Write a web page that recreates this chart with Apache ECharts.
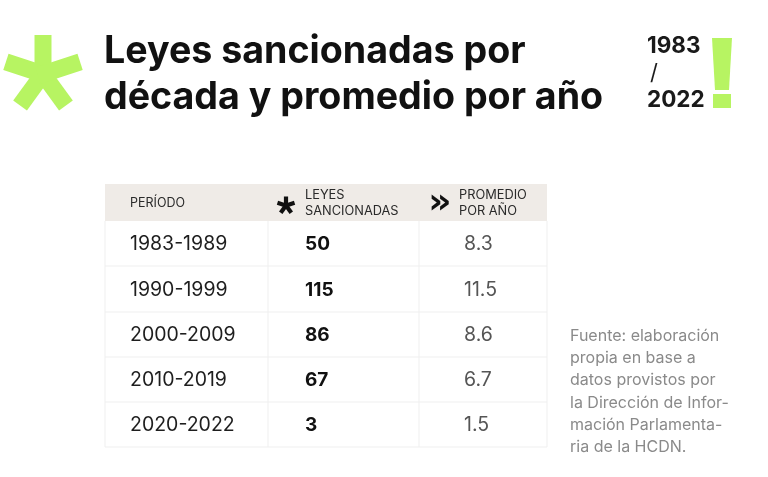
<!DOCTYPE html>
<html><head><meta charset="utf-8">
<script src="https://cdn.jsdelivr.net/npm/echarts@6/dist/echarts.min.js"></script>
<style>html,body{margin:0;padding:0;background:#fff}#c{width:768px;height:477px}</style>
</head><body><div id="c"></div>
<script>
// ---- data ----
var periods = ['1983-1989', '1990-1999', '2000-2009', '2010-2019', '2020-2022'];
var leyes = [50, 115, 86, 67, 3];
var promedio = ['8.3', '11.5', '8.6', '6.7', '1.5'];
var headers = ['PERÍODO', 'LEYES\nSANCIONADAS', 'PROMEDIO\nPOR AÑO'];
var titleLines = ['Leyes sancionadas por', 'década y promedio por año'];
var yearsLabel = ['1983', '/', '2022'];
var sourceText = 'Fuente: elaboración\npropia en base a\ndatos provistos por\nla Dirección de Infor-\nmación Parlamenta-\nria de la HCDN.';

// ---- layout (table units) ----
var colEdges = [0, 163, 314, 442];
var rowEdges = [0, 37, 82, 128, 173, 218, 263];
var GREEN = '#b7f462';
var FONT = 'Inter, Roboto, sans-serif';

function asterisk(cx, cy, L, w, color) {
  var arms = [];
  for (var k = 0; k < 5; k++) {
    arms.push({ type: 'rect', rotation: k * 2 * Math.PI / 5, shape: { x: -w / 2, y: -L, width: w, height: L + w * 0.3 }, style: { fill: color } });
  }
  return { type: 'group', x: cx, y: cy, children: arms };
}

var rows = [0, 1, 2, 3, 4, 5];
var seriesData = rows.map(function (r) { return [r]; });

function renderItem(params, api) {
  var r = api.value(0);
  var p0 = api.coord([colEdges[0], rowEdges[r]]);
  var p1 = api.coord([colEdges[3], rowEdges[r + 1]]);
  var xs = colEdges.map(function (c) { return api.coord([c, 0])[0]; });
  var x0 = p0[0], y0 = p0[1], x1 = p1[0], y1 = p1[1];
  var cy = (y0 + y1) / 2;
  var ch = [];
  if (r === 0) {
    ch.push({ type: 'rect', shape: { x: x0, y: y0, width: x1 - x0, height: y1 - y0 }, style: { fill: '#efebe7' } });
    ch.push({ type: 'text', x: xs[0] + 25, y: cy + 1, style: { text: headers[0], fill: '#2a2a2a', font: '400 12.5px ' + FONT, verticalAlign: 'middle' } });
    ch.push(asterisk(xs[1] + 18, cy + 3, 9, 4.2, '#111'));
    ch.push({ type: 'text', x: xs[1] + 37, y: cy + 1, style: { text: headers[1], fill: '#2a2a2a', font: '400 12.8px ' + FONT, lineHeight: 16, verticalAlign: 'middle' } });
    ch.push({ type: 'text', x: xs[2] + 21, y: cy + 1, style: { text: '»', fill: '#111', font: '700 36px "DejaVu Sans", sans-serif', align: 'center', verticalAlign: 'middle' } });
    ch.push({ type: 'text', x: xs[2] + 40, y: cy + 1, style: { text: headers[2], fill: '#2a2a2a', font: '400 12.8px ' + FONT, lineHeight: 16, verticalAlign: 'middle' } });
  } else {
    var i = r - 1;
    var lc = '#efefef';
    ch.push({ type: 'line', shape: { x1: x0, y1: y1, x2: x1, y2: y1 }, style: { stroke: lc, lineWidth: 1 } });
    [0, 1, 2, 3].forEach(function (k) {
      ch.push({ type: 'line', shape: { x1: xs[k], y1: y0, x2: xs[k], y2: y1 }, style: { stroke: lc, lineWidth: 1 } });
    });
    ch.push({ type: 'text', x: xs[0] + 25, y: cy + 1, style: { text: periods[i], fill: '#1e1e1e', font: '400 19.5px ' + FONT, verticalAlign: 'middle' } });
    ch.push({ type: 'text', x: xs[1] + 37, y: cy + 1, style: { text: String(leyes[i]), fill: '#111', font: '700 19px ' + FONT, verticalAlign: 'middle' } });
    ch.push({ type: 'text', x: xs[2] + 45, y: cy + 1, style: { text: promedio[i], fill: '#555', font: '400 19.5px ' + FONT, verticalAlign: 'middle' } });
  }
  return { type: 'group', children: ch };
}

var chart = echarts.init(document.getElementById('c'), null, { renderer: 'canvas' });
chart.setOption({
  backgroundColor: '#fff',
  animation: false,
  grid: { left: 105, right: 221, top: 184, bottom: 30 },
  xAxis: { type: 'value', min: colEdges[0], max: colEdges[3], show: false },
  yAxis: { type: 'value', min: rowEdges[0], max: rowEdges[6], inverse: true, show: false },
  graphic: [
    asterisk(43, 74, 39, 17, GREEN),
    { type: 'text', left: 104, top: 29, style: { text: titleLines.join('\n'), fill: '#111', font: '700 37.6px ' + FONT, lineHeight: 46 } },
    { type: 'text', left: 647, top: 35, style: { text: yearsLabel[0], fill: '#1a1a1a', font: '700 22.5px ' + FONT } },
    { type: 'text', left: 650, top: 62, style: { text: yearsLabel[1], fill: '#1a1a1a', font: '400 22px ' + FONT } },
    { type: 'text', left: 647, top: 89, style: { text: yearsLabel[2], fill: '#1a1a1a', font: '700 22.5px ' + FONT } },
    { type: 'polygon', shape: { points: [[712, 38], [732, 38], [729, 90], [715, 90]] }, style: { fill: GREEN } },
    { type: 'rect', shape: { x: 713, y: 94, width: 18, height: 14 }, style: { fill: GREEN } },
    { type: 'text', left: 570, top: 325, style: { text: sourceText, fill: '#8a8a8a', font: '400 16px ' + FONT, lineHeight: 22.2 } }
  ],
  series: [{
    type: 'custom',
    renderItem: renderItem,
    data: seriesData,
    encode: { x: -1, y: -1 },
    clip: false,
    silent: true
  }]
});
</script></body></html>
